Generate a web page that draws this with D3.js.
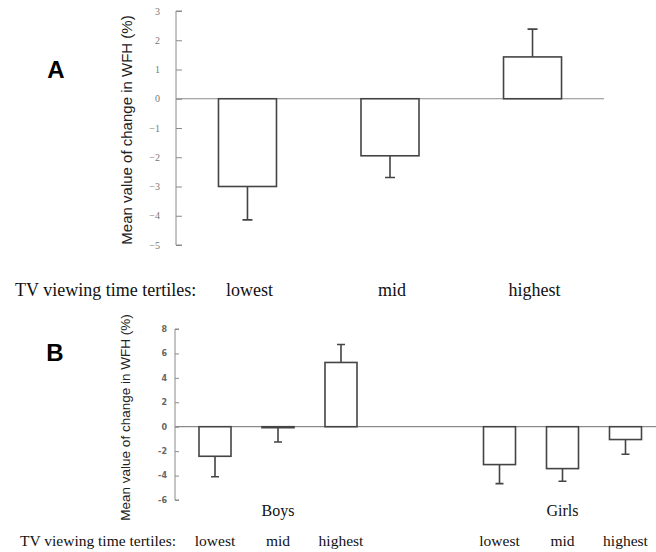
<!DOCTYPE html>
<html>
<head>
<meta charset="utf-8">
<script src="https://cdn.jsdelivr.net/npm/d3@7"></script>
<style>
  body { margin: 0; background: #fff; }
  svg { display: block; }
  .serif { font-family: "Liberation Serif", "Times New Roman", Times, serif; fill: #111; }
  .sans { font-family: "Liberation Sans", Arial, Helvetica, sans-serif; }
</style>
</head>
<body>
<div id="chart"></div>
<script>
// panel A data
const tertiles = ["lowest", "mid", "highest"];
const meanA = [-3.0, -1.95, 1.43];
const errA = [-4.14, -2.69, 2.38];
const ticksA = [3, 2, 1, 0, -1, -2, -3, -4, -5];

// panel B data
const groups = ["Boys", "Girls"];
const meanBoys = [-2.42, -0.08, 5.26];
const errBoys = [-4.1, -1.25, 6.73];
const meanGirls = [-3.1, -3.43, -1.05];
const errGirls = [-4.66, -4.47, -2.25];
const ticksB = [8, 6, 4, 2, 0, -2, -4, -6];

const W = 656, H = 552;
const axisColor = "#8a8a8a";
const barStroke = "#444";

const svg = d3.select("#chart").append("svg")
    .attr("width", W).attr("height", H)
    .attr("viewBox", [0, 0, W, H]);

const fmtMinus = d => d < 0 ? "\u2212" + Math.abs(d) : String(d);

// ---------- Panel A ----------
const yA = d3.scaleLinear().domain([-5, 3]).range([245, 11]);
const xA = d3.scaleBand().domain(tertiles).range([176, 604])
    .paddingInner(0.593).paddingOuter(0.298);

const dataA = tertiles.map((t, i) => ({key: t, v: meanA[i], e: errA[i]}));

svg.append("text")
    .attr("class", "sans")
    .attr("x", 56).attr("y", 78)
    .attr("text-anchor", "middle")
    .attr("font-weight", "bold").attr("font-size", 24)
    .text("A");

const gA = svg.append("g");

gA.append("g")
    .attr("transform", "translate(176,0)")
    .call(d3.axisRight(yA).tickValues(ticksA).tickSize(6).tickFormat(""))
    .call(g => g.selectAll("path,line").attr("stroke", axisColor))
    .call(g => g.select(".domain").attr("d", `M6,${yA(3)}H0V${yA(-5)}H6`));

gA.selectAll(".ticklabel")
    .data(ticksA)
    .join("text")
    .attr("class", "serif")
    .attr("x", 160).attr("y", d => yA(d))
    .attr("dy", "0.35em")
    .attr("text-anchor", "end")
    .style("fill", "#777").style("font-size", "10px")
    .text(fmtMinus);

gA.append("text")
    .attr("class", "sans")
    .attr("transform", `translate(132,${(yA(3) + yA(-5)) / 2 + 2}) rotate(-90)`)
    .attr("text-anchor", "middle")
    .attr("fill", "#222").attr("font-size", 15)
    .text("Mean value of change in WFH (%)");

gA.append("line")
    .attr("x1", 176).attr("x2", 604)
    .attr("y1", yA(0)).attr("y2", yA(0))
    .attr("stroke", axisColor).attr("stroke-width", 1.2);

gA.selectAll(".err")
    .data(dataA)
    .join("path")
    .attr("d", d => {
        const cx = xA(d.key) + xA.bandwidth() / 2;
        return `M${cx},${yA(d.v)}V${yA(d.e)}M${cx - 5},${yA(d.e)}H${cx + 5}`;
    })
    .attr("fill", "none").attr("stroke", barStroke).attr("stroke-width", 1.6);

gA.selectAll(".bar")
    .data(dataA)
    .join("rect")
    .attr("x", d => xA(d.key))
    .attr("width", xA.bandwidth())
    .attr("y", d => yA(Math.max(0, d.v)))
    .attr("height", d => Math.abs(yA(d.v) - yA(0)))
    .attr("fill", "#fff").attr("stroke", barStroke).attr("stroke-width", 1.6);

svg.append("text")
    .attr("class", "serif")
    .attr("x", 15).attr("y", 296)
    .attr("font-size", 18)
    .text("TV viewing time tertiles:");

svg.selectAll(".labA")
    .data(tertiles)
    .join("text")
    .attr("class", "serif")
    .attr("x", d => xA(d) + xA.bandwidth() / 2 + 2).attr("y", 296)
    .attr("font-size", 18)
    .attr("text-anchor", "middle")
    .text(d => d);

// ---------- Panel B ----------
const yB = d3.scaleLinear().domain([-6, 8]).range([500, 329]);
const xG = d3.scaleBand().domain(groups).range([135.75, 704.75]);
const xT = d3.scaleBand().domain(tertiles).range([0, xG.bandwidth()])
    .paddingInner(0.492).paddingOuter(1.004);

const dataB = [];
tertiles.forEach((t, i) => dataB.push({g: "Boys", key: t, v: meanBoys[i], e: errBoys[i]}));
tertiles.forEach((t, i) => dataB.push({g: "Girls", key: t, v: meanGirls[i], e: errGirls[i]}));

svg.append("text")
    .attr("class", "sans")
    .attr("x", 55).attr("y", 361)
    .attr("text-anchor", "middle")
    .attr("font-weight", "bold").attr("font-size", 24)
    .text("B");

const gB = svg.append("g");

gB.append("g")
    .attr("transform", "translate(175,0)")
    .call(d3.axisRight(yB).tickValues(ticksB).tickSize(4).tickFormat(""))
    .call(g => g.selectAll("path,line").attr("stroke", axisColor))
    .call(g => g.select(".domain").attr("d", `M4,${yB(8)}H0V${yB(-6)}H4`));

gB.selectAll(".ticklabel")
    .data(ticksB)
    .join("text")
    .attr("x", 167).attr("y", d => yB(d))
    .attr("dy", "0.35em")
    .attr("text-anchor", "end")
    .attr("fill", "#666")
    .attr("font-family", "'DejaVu Sans', sans-serif")
    .attr("font-weight", "bold").attr("font-size", 8)
    .text(d => String(d));

gB.append("text")
    .attr("class", "sans")
    .attr("transform", `translate(130,${(yB(8) + yB(-6)) / 2 + 3}) rotate(-90)`)
    .attr("text-anchor", "middle")
    .attr("fill", "#222").attr("font-size", 13.5)
    .text("Mean value of change in WFH (%)");

gB.append("line")
    .attr("x1", 175).attr("x2", W)
    .attr("y1", yB(0)).attr("y2", yB(0))
    .attr("stroke", axisColor).attr("stroke-width", 1.2);

const bx = d => xG(d.g) + xT(d.key);
const bc = d => bx(d) + xT.bandwidth() / 2;

gB.selectAll(".err")
    .data(dataB)
    .join("path")
    .attr("d", d => {
        const cx = bc(d);
        return `M${cx},${yB(d.v)}V${yB(d.e)}M${cx - 4},${yB(d.e)}H${cx + 4}`;
    })
    .attr("fill", "none").attr("stroke", barStroke).attr("stroke-width", 1.6);

gB.selectAll(".bar")
    .data(dataB)
    .join("rect")
    .attr("x", bx)
    .attr("width", xT.bandwidth())
    .attr("y", d => yB(Math.max(0, d.v)))
    .attr("height", d => Math.abs(yB(d.v) - yB(0)))
    .attr("fill", "#fff").attr("stroke", barStroke).attr("stroke-width", 1.6);

svg.selectAll(".labG")
    .data(groups)
    .join("text")
    .attr("class", "serif")
    .attr("x", d => xG(d) + xG.bandwidth() / 2).attr("y", 516)
    .attr("font-size", 16)
    .attr("text-anchor", "middle")
    .text(d => d);

svg.append("text")
    .attr("class", "serif")
    .attr("x", 20).attr("y", 546)
    .attr("font-size", 15.5)
    .text("TV viewing time tertiles:");

svg.selectAll(".labB")
    .data(dataB)
    .join("text")
    .attr("class", "serif")
    .attr("x", d => bc(d)).attr("y", 546)
    .attr("font-size", 15.5)
    .attr("text-anchor", "middle")
    .text(d => d.key);
</script>
</body>
</html>
